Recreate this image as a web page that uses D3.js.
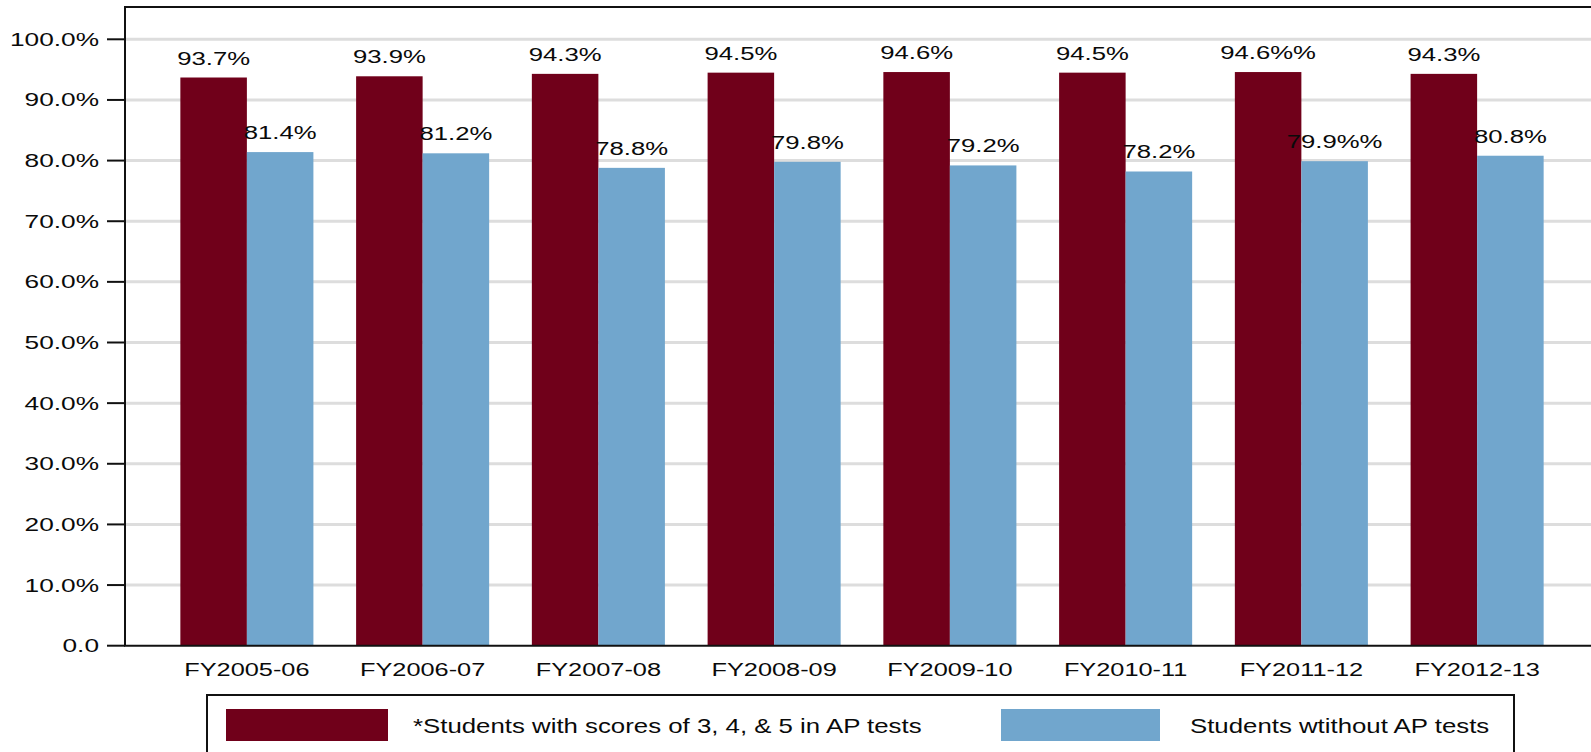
<!DOCTYPE html>
<html>
<head>
<meta charset="utf-8">
<script src="https://cdn.jsdelivr.net/npm/d3@7/dist/d3.min.js"></script>
<style>
  html, body { margin: 0; padding: 0; background: #fff; }
  svg { display: block; }
  text { font-family: "Liberation Sans", Arial, Helvetica, sans-serif; fill: #0a0a0a; }
</style>
</head>
<body>
<svg id="chart" width="1591" height="752"></svg>
<script>
// Fiscal years shown along the x axis
const years = ["FY2005-06", "FY2006-07", "FY2007-08", "FY2008-09",
               "FY2009-10", "FY2010-11", "FY2011-12", "FY2012-13"];

// Series names (legend order)
const seriesNames = ["*Students with scores of 3, 4, & 5 in AP tests",
                     "Students wtithout AP tests"];

// Percent values per series
const apScorers = [93.7, 93.9, 94.3, 94.5, 94.6, 94.5, 94.6, 94.3];
const noAP      = [81.4, 81.2, 78.8, 79.8, 79.2, 78.2, 79.9, 80.8];

// Value labels as printed above each bar
const apScorerLabels = ["93.7%", "93.9%", "94.3%", "94.5%", "94.6%", "94.5%", "94.6%%", "94.3%"];
const noAPLabels     = ["81.4%", "81.2%", "78.8%", "79.8%", "79.2%", "78.2%", "79.9%%", "80.8%"];

// Y axis ticks
const yTicks = [0, 10, 20, 30, 40, 50, 60, 70, 80, 90, 100];
const yTickLabels = ["0.0", "10.0%", "20.0%", "30.0%", "40.0%", "50.0%",
                     "60.0%", "70.0%", "80.0%", "90.0%", "100.0%"];

const colors = ["#70001a", "#71a6cd"];

const svg = d3.select("#chart");

const plot = { left: 125, right: 1599, top: 7, bottom: 645.7 };

const x = d3.scaleBand()
  .domain(years)
  .range([plot.left, plot.right])
  .paddingInner(0.243)
  .paddingOuter(0.315);

const xSeries = d3.scaleBand()
  .domain([0, 1])
  .range([0, x.bandwidth()]);

const y = d3.scaleLinear()
  .domain([0, 100])
  .range([plot.bottom, 39.3]);

// Text is drawn horizontally widened
function stretched(sel, sx) {
  return sel.attr("transform", d => `translate(${d.tx},${d.ty}) scale(${sx},1)`);
}

// Horizontal gridlines
svg.append("g")
  .selectAll("line")
  .data(yTicks.filter(t => t > 0))
  .join("line")
  .attr("x1", plot.left)
  .attr("x2", 1591)
  .attr("y1", d => y(d))
  .attr("y2", d => y(d))
  .attr("stroke", "#dddddd")
  .attr("stroke-width", 3);

// Bars
const seriesData = [apScorers, noAP];
const seriesLabels = [apScorerLabels, noAPLabels];

seriesData.forEach((vals, si) => {
  const g = svg.append("g");
  g.selectAll("rect")
    .data(vals.map((v, i) => ({ v, year: years[i] })))
    .join("rect")
    .attr("x", d => x(d.year) + xSeries(si))
    .attr("width", xSeries.bandwidth())
    .attr("y", d => y(d.v))
    .attr("height", d => y(0) - y(d.v))
    .attr("fill", colors[si]);

  g.selectAll("text")
    .data(vals.map((v, i) => ({
      label: seriesLabels[si][i],
      tx: x(years[i]) + xSeries(si) + xSeries.bandwidth() / 2,
      ty: y(v) - 13
    })))
    .join("text")
    .attr("text-anchor", "middle")
    .attr("font-size", 18.5)
    .text(d => d.label)
    .call(stretched, 1.39);
});

// Frame: left axis, top and bottom lines
svg.append("line")
  .attr("x1", plot.left).attr("x2", plot.left)
  .attr("y1", plot.top).attr("y2", plot.bottom)
  .attr("stroke", "#111").attr("stroke-width", 2);
svg.append("line")
  .attr("x1", plot.left - 1).attr("x2", 1591)
  .attr("y1", plot.top).attr("y2", plot.top)
  .attr("stroke", "#111").attr("stroke-width", 2);
svg.append("line")
  .attr("x1", plot.left - 1).attr("x2", 1591)
  .attr("y1", plot.bottom).attr("y2", plot.bottom)
  .attr("stroke", "#111").attr("stroke-width", 2);

// Y ticks and labels
const yAxis = svg.append("g");
yAxis.selectAll("line")
  .data(yTicks)
  .join("line")
  .attr("x1", 107).attr("x2", plot.left)
  .attr("y1", d => y(d)).attr("y2", d => y(d))
  .attr("stroke", "#111").attr("stroke-width", 2);
yAxis.selectAll("text")
  .data(yTicks.map((t, i) => ({ label: yTickLabels[i], tx: 99, ty: y(t) + 6.5 })))
  .join("text")
  .attr("text-anchor", "end")
  .attr("font-size", 17.5)
  .text(d => d.label)
  .call(stretched, 1.5);

// X category labels
svg.append("g")
  .selectAll("text")
  .data(years.map(yr => ({ label: yr, tx: x(yr) + x.bandwidth() / 2, ty: 676 })))
  .join("text")
  .attr("text-anchor", "middle")
  .attr("font-size", 18.5)
  .text(d => d.label)
  .call(stretched, 1.37);

// Legend
const legend = svg.append("g");
legend.append("rect")
  .attr("x", 207).attr("y", 695)
  .attr("width", 1514 - 207).attr("height", 80)
  .attr("fill", "none")
  .attr("stroke", "#111").attr("stroke-width", 2);

const legendItems = [
  { swatchX: 226, swatchW: 162, textX: 413 },
  { swatchX: 1001, swatchW: 159, textX: 1190 }
];
legendItems.forEach((it, i) => {
  legend.append("rect")
    .attr("x", it.swatchX).attr("y", 709)
    .attr("width", it.swatchW).attr("height", 32)
    .attr("fill", colors[i]);
  legend.append("text")
    .datum({ tx: it.textX, ty: 733 })
    .attr("font-size", 20)
    .text(seriesNames[i])
    .call(stretched, 1.29);
});
</script>
</body>
</html>
